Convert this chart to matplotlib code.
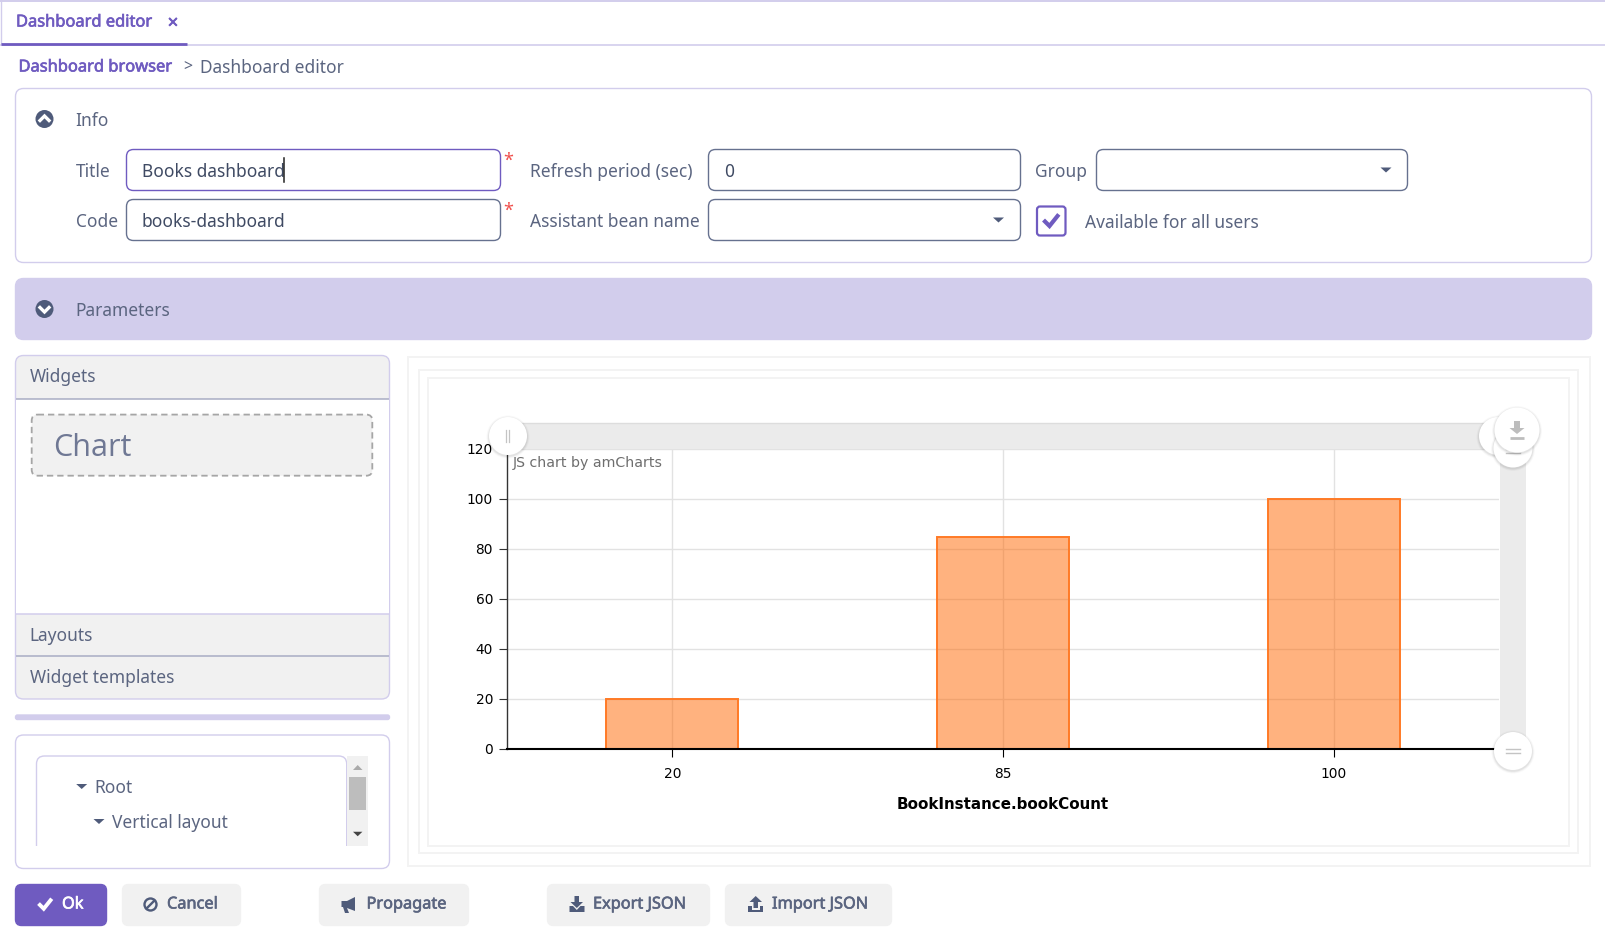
import matplotlib
matplotlib.use("Agg")
import matplotlib.pyplot as plt
import matplotlib.patheffects as pe
from matplotlib.patches import FancyBboxPatch, Rectangle, Circle, Polygon
from matplotlib.lines import Line2D

# ---- chart data ----
categories = ["20", "85", "100"]
book_counts = [20, 85, 100]
y_ticks = [0, 20, 40, 60, 80, 100, 120]
x_label = "BookInstance.bookCount"
credit = "JS chart by amCharts"

W, H = 1606, 934
PURPLE = "#6f5bc0"
LILAC = "#d2cdec"
TXT = "#5b6580"
DARK = "#4f5b7a"
BORDER = "#66718f"
PANEL = "#f1f1f1"
UI_FONT = ["Noto Sans", "DejaVu Sans"]
BASE = 12.5
BTN = 11.75
LINK = 11.85

fig = plt.figure(figsize=(W / 100, H / 100), dpi=100, facecolor="white")


def px_axes(z):
    a = fig.add_axes([0, 0, 1, 1], zorder=z)
    a.set_xlim(0, W)
    a.set_ylim(H, 0)
    a.axis("off")
    a.patch.set_alpha(0)
    return a


ui = px_axes(1)
over = px_axes(3)


def box(x0, y0, x1, y1, r=6, fc="white", ec=LILAC, lw=1.0, ax=ui, z=1, ls="-"):
    p = FancyBboxPatch((x0 + r, y0 + r), x1 - x0 - 2 * r, y1 - y0 - 2 * r,
                       boxstyle=f"round,pad={r},rounding_size={r}",
                       fc=fc, ec=ec, lw=lw, zorder=z, ls=ls)
    ax.add_patch(p)
    return p


def rect(x0, y0, x1, y1, fc, ax=ui, z=2):
    ax.add_patch(Rectangle((x0, y0), x1 - x0, y1 - y0, fc=fc, ec="none", zorder=z))


def hline(x0, x1, y, c, lw=1.0, ax=ui, z=3):
    ax.add_line(Line2D([x0, x1], [y, y], color=c, lw=lw, zorder=z, solid_capstyle="butt"))


def txt(x, y, s, size=BASE, c=TXT, ha="left", ax=ui, family=None, stroke=0.0):
    t = ax.text(x, y + 2, s, fontsize=size, color=c, ha=ha, va="center",
                family=family or UI_FONT, zorder=6)
    if stroke:
        t.set_path_effects([pe.withStroke(linewidth=stroke, foreground=c)])


def poly(pts, c, ax=ui, z=5):
    ax.add_patch(Polygon(pts, closed=True, fc=c, ec="none", zorder=z))


def down_arrow(x, y, c=DARK, w=5.5, h=5, ax=ui):
    poly([(x - w, y - h / 2), (x + w, y - h / 2), (x, y + h / 2)], c, ax=ax)


def chevron_icon(x, y, up):
    ui.add_patch(Circle((x, y), 9, fc=DARK, ec="none", zorder=5))
    s = -1 if up else 1
    ui.add_line(Line2D([x - 4.5, x, x + 4.5], [y - s * 1.5, y + s * 3, y - s * 1.5],
                       color="white", lw=2.4, zorder=6, solid_joinstyle="miter"))


def check(x, y, c, s=1.0, lw=3.0):
    ui.add_line(Line2D([x - 6 * s, x - 1.5 * s, x + 6.5 * s],
                       [y + 0.5 * s, y + 5 * s, y - 5 * s],
                       color=c, lw=lw, zorder=7, solid_joinstyle="miter"))


# ---- tab bar and breadcrumb ----
hline(0, W, 0.7, LILAC, 1.4)
hline(0, W, 44.5, LILAC, 1.2)
hline(1, 187, 44, PURPLE, 2.0, z=4)
ui.add_line(Line2D([1, 1], [0, 44], color=LILAC, lw=1, zorder=3))
txt(16, 20.5, "Dashboard editor", LINK, PURPLE, stroke=0.45)
txt(173, 21.5, "×", 13.5, PURPLE, ha="center", stroke=0.5)
txt(18.5, 65.5, "Dashboard browser", LINK, PURPLE, stroke=0.45)
txt(188, 65, ">", 11.5, TXT, ha="center")
txt(200.5, 66, "Dashboard editor")

# ---- info panel ----
box(15.5, 88.5, 1591.5, 262.5, r=8)
chevron_icon(44.5, 119, True)
txt(75.5, 118.5, "Info")
txt(75.5, 170, "Title")
box(126.5, 149.5, 500.5, 190.5, r=7, ec=PURPLE, lw=1.0)
txt(142, 170, "Books dashboard", BASE, "#3f4a63")
ui.add_line(Line2D([284.5, 284.5], [158, 182], color="#222222", lw=1.1, zorder=7))
txt(503, 159, "*", 13, "#f0524f")
txt(76.3, 220, "Code")
box(126.5, 199.5, 500.5, 240.5, r=7, ec=BORDER, lw=1.0)
txt(142, 220, "books-dashboard", BASE, "#3f4a63")
txt(503, 209, "*", 13, "#f0524f")
txt(530, 170, "Refresh period (sec)")
box(708.5, 149.5, 1020.5, 190.5, r=7, ec=BORDER, lw=1.0)
txt(724.5, 170, "0", BASE, "#3f4a63")
txt(530, 220, "Assistant bean name")
box(708.5, 199.5, 1020.5, 240.5, r=7, ec=BORDER, lw=1.0)
down_arrow(998.5, 220)
txt(1035.5, 170, "Group")
box(1096.5, 149.5, 1407.5, 190.5, r=7, ec=BORDER, lw=1.0)
down_arrow(1386, 170)
box(1037, 206.5, 1065.5, 235.5, r=3, ec=PURPLE, lw=1.6)
check(1051, 221, PURPLE)
txt(1085.5, 221, "Available for all users")

# ---- parameters bar ----
box(15.5, 278.5, 1591.5, 339.5, r=8, fc=LILAC, ec=LILAC)
chevron_icon(44.5, 309, False)
txt(75.5, 308.5, "Parameters")

# ---- widget palette ----
box(15.5, 355.5, 389.5, 699, r=8, fc=PANEL)
rect(16.2, 398.5, 388.8, 613.8, "white")
hline(16, 389, 398.5, "#a9adc4", 1.1)
hline(16, 389, 613.8, LILAC, 1.1)
hline(16, 389, 656, "#a9adc4", 1.1)
txt(30, 375.5, "Widgets")
txt(29.5, 634, "Layouts")
txt(30, 676, "Widget templates")
box(31.7, 414.6, 372.3, 475.7, r=6, fc=PANEL, ec="#a6a6a6", lw=1.3, z=3, ls=(0, (3.5, 2.2)))
txt(53.5, 445.5, "Chart", 22, "#6f7894", family=["Open Sans", "Noto Sans"])
box(15.5, 715, 389.5, 719.5, r=2, fc=LILAC, ec=LILAC)

# ---- layout tree ----
box(15.5, 735, 389.5, 868.5, r=8)
tree = box(36.5, 756, 346.7, 890, r=8, z=2)
tree.set_clip_path(Rectangle((30, 750), 330, 95.5, transform=ui.transData))
rect(347, 756, 368, 845.5, PANEL, z=3)
rect(349, 777, 366, 809.7, "#bdbdbd", z=4)
poly([(353, 770), (362.5, 770), (357.7, 765)], "#aaaaaa")
down_arrow(357.7, 834, "#444444", 4.7, 4.5)
down_arrow(81.7, 786.5, DARK, 5.5, 5)
txt(94.5, 786, "Root")
down_arrow(99, 821.5, DARK, 5.5, 5)
txt(112, 820.5, "Vertical layout")

# ---- buttons ----
box(15.5, 884.5, 106.5, 925.5, r=6, fc=PURPLE, ec=PURPLE)
check(45, 904.5, "white", 0.85, 2.8)
txt(62, 902.5, "Ok", BTN, "white", stroke=0.5)
box(122.5, 884.5, 240.5, 925.5, r=6, fc=PANEL, ec=PANEL)
ui.add_patch(Circle((150.5, 904.5), 6, fc="none", ec=DARK, lw=1.7, zorder=6))
ui.add_line(Line2D([146.5, 154.5], [908.5, 900.5], color=DARK, lw=1.7, zorder=6))
txt(167, 902.5, "Cancel", BTN, TXT, stroke=0.45)
box(319.5, 884.5, 468.5, 925.5, r=6, fc=PANEL, ec=PANEL)
poly([(341.5, 901), (347, 901), (355, 897), (355, 911), (347, 908), (349, 913), (345, 913), (343, 907), (341.5, 907)], DARK)
txt(366.5, 902.5, "Propagate", BTN, TXT, stroke=0.45)
box(547.5, 884.5, 709.5, 925.5, r=6, fc=PANEL, ec=PANEL)
poly([(574.5, 896), (579, 896), (579, 902), (583, 902), (576.8, 908), (570.5, 902), (574.5, 902)], DARK)
poly([(569.5, 906), (573, 906), (576.8, 910), (580.5, 906), (584.5, 906), (584.5, 912), (569.5, 912)], DARK)
txt(593, 902.5, "Export JSON", BTN, TXT, stroke=0.45)
box(725.5, 884.5, 891.5, 925.5, r=6, fc=PANEL, ec=PANEL)
poly([(753.5, 908), (758, 908), (758, 902), (762, 902), (755.7, 896), (749.5, 902), (753.5, 902)], DARK)
poly([(748.5, 906), (752, 906), (752, 910), (760, 910), (760, 906), (763.5, 906), (763.5, 912), (748.5, 912)], DARK)
txt(772, 902.5, "Import JSON", BTN, TXT, stroke=0.45)

# ---- chart frames ----
for x0, y0, x1, y1 in [(407.7, 357.4, 1590, 865.5), (419, 370, 1577.7, 852.7), (427.7, 377.7, 1569, 845.6)]:
    ui.add_patch(Rectangle((x0, y0), x1 - x0, y1 - y0, fc="none", ec="#f3f3f3", lw=1.4, zorder=2))

# ---- the chart itself ----
L, R, T, B = 507.0, 1499.0, 449.0, 749.0
ax = fig.add_axes([L / W, 1 - B / H, (R - L) / W, (B - T) / H], zorder=2)
ax.patch.set_alpha(0)
xs = list(range(len(categories)))
ax.bar(xs, book_counts, width=0.4, color="#ff6600", alpha=0.5, zorder=3, lw=0)
ax.bar(xs, book_counts, width=0.4, fill=False, edgecolor="#ff7a26", lw=1.4, zorder=4)
ax.set_xlim(-0.5, len(categories) - 0.5)
ax.set_ylim(0, y_ticks[-1])
ax.set_yticks(y_ticks)
ax.set_xticks(xs, categories)
ax.grid(True, color="#e2e2e2", lw=1.0, zorder=1)
ax.set_axisbelow(True)
for s in ("top", "right"):
    ax.spines[s].set_visible(False)
ax.spines["left"].set_color("#333333")
ax.spines["left"].set_linewidth(1.0)
ax.spines["bottom"].set_color("black")
ax.spines["bottom"].set_linewidth(1.5)
ax.spines["bottom"].set_zorder(5)
ax.tick_params(axis="y", length=5.5, width=0.8, color="#333333", pad=4.5, labelsize=9.9, labelcolor="black")
ax.tick_params(axis="x", length=5.5, width=0.8, color="black", pad=7.5, labelsize=9.9, labelcolor="black")
for lab in ax.get_xticklabels() + ax.get_yticklabels():
    lab.set_family("DejaVu Sans")
ax.set_xlabel(x_label, fontsize=10.9, fontweight="bold", family="DejaVu Sans", labelpad=11.8, color="black")
ax.text(513, 463, credit, transform=ui.transData, fontsize=10.15, color="#6e6e6e",
        va="center", ha="left", family="DejaVu Sans", zorder=6)

# ---- scrollbars and handles ----
rect(508, 423, 1490, 449, "#ebebeb", ax=over, z=1)
hline(508, 1490, 423.3, "#dddddd", 1.0, ax=over, z=2)
rect(1500, 449, 1526, 750, "#ebebeb", ax=over, z=1)


def handle(x, y, r, z):
    for k, a in [(2.5, 0.025), (1.6, 0.04), (0.8, 0.05)]:
        over.add_patch(Circle((x, y + 1), r + k, fc="black", ec="none", alpha=a, zorder=z))
    over.add_patch(Circle((x, y), r, fc="white", ec="none", zorder=z + 0.1))


def grip_v(x, y):
    for dx in (-1.5, 1.5):
        over.add_line(Line2D([x + dx, x + dx], [y - 6, y + 6], color="#c4c4c4", lw=0.9, zorder=30))


def grip_h(x, y, z=30):
    for dy in (-2, 2):
        over.add_line(Line2D([x - 7, x + 7], [y + dy, y + dy], color="#c4c4c4", lw=1.0, zorder=z))


handle(508, 436, 19, 5)
grip_v(508, 436)
handle(1498, 436, 19, 6)
over.add_line(Line2D([1500, 1500], [431, 441], color="#c4c4c4", lw=0.9, zorder=6.5))
handle(1513, 448, 19.5, 7)
grip_h(1513, 451, z=7.5)
handle(1517, 430, 22.5, 8)
poly([(1514, 421), (1520, 421), (1520, 428), (1524.5, 428), (1517, 434), (1509.5, 428), (1514, 428)], "#bdbdbd", ax=over, z=9)
hline(1510, 1524, 437.5, "#bdbdbd", 2.0, ax=over, z=9)
handle(1513, 751, 19, 5)
grip_h(1513, 751)

fig.savefig("out.png", dpi=100)
